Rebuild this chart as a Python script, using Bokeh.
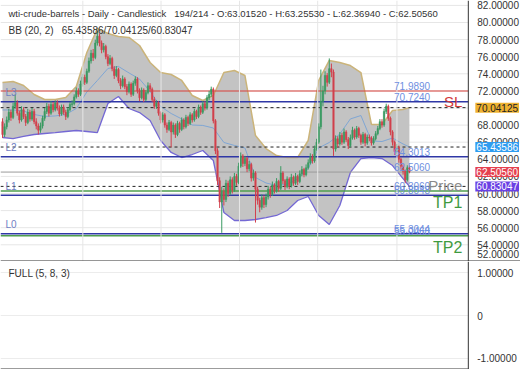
from bokeh.plotting import figure
from bokeh.layouts import column
from bokeh.models import Range1d, Span, Label, ColumnDataSource
from bokeh.core.properties import value
from bokeh.embed import file_html
from bokeh.resources import INLINE

# ---------------- data ----------------
closes = [66.9, 67.8, 68.6, 69.5, 68.9, 70.2, 70.6, 69.4, 68.6, 69.8,
          69.0, 68.3, 69.5, 68.7, 69.6, 68.4, 67.9, 67.4, 67.9, 68.8,
          69.6, 70.2, 69.4, 70.4, 69.8, 70.6, 70.0, 69.3, 70.1, 69.5,
          69.0, 69.8, 70.4, 70.5, 71.3, 72.0, 71.6, 72.8, 73.6, 73.0,
          74.3, 75.5, 76.4, 75.9, 77.6, 78.4, 77.6, 76.8, 77.2, 76.0,
          75.2, 75.8, 74.6, 73.8, 74.5, 73.2, 72.6, 73.4, 72.5, 71.9,
          72.8, 71.6, 72.9, 73.4, 72.0, 71.2, 72.1, 71.0, 71.8, 72.6,
          72.2, 71.0, 70.2, 70.6, 69.4, 68.6, 69.2, 68.0, 67.5, 68.3,
          67.2, 68.0, 66.9, 68.2, 67.5, 68.6, 67.8, 68.9, 68.2, 69.2,
          68.6, 69.6, 69.0, 70.1, 69.5, 70.5, 70.0, 71.2, 71.6, 72.2,
          68.5, 65.0, 61.5, 59.0, 60.2, 59.3, 61.2, 60.0, 61.6, 60.4,
          62.0, 61.3, 63.2, 64.4, 63.5, 64.1, 62.9, 63.4, 61.8, 62.4,
          60.5, 59.2, 58.4, 59.5, 58.7, 59.6, 60.5, 59.9, 61.0, 60.3,
          61.4, 60.6, 62.4, 61.5, 60.8, 61.7, 60.9, 61.9, 61.2, 62.0,
          61.4, 62.3, 62.8, 62.2, 63.0, 63.6, 64.3, 63.8, 65.2, 66.0,
          67.8, 70.8, 72.0, 73.8, 73.0, 74.6, 74.2, 65.2, 66.4, 65.8,
          66.8, 66.0, 67.2, 66.3, 65.6, 66.5, 67.4, 66.6, 67.6, 66.8,
          66.0, 66.9, 65.9, 66.6, 66.5, 65.9, 66.4, 67.0, 67.6, 68.4,
          68.0, 69.6, 70.2, 68.8, 67.2, 66.0, 64.9, 65.4, 64.0, 63.2,
          62.6, 61.6, 63.0152, 62.5056]

opens = [68.4, 66.9, 67.8, 68.6, 69.5, 68.9, 70.2, 70.6, 69.4, 68.6,
         69.8, 69.0, 68.3, 69.5, 68.7, 69.6, 68.4, 67.9, 67.4, 67.9,
         68.8, 69.6, 70.2, 69.4, 70.4, 69.8, 70.6, 70.0, 69.3, 70.1,
         69.5, 69.0, 69.8, 70.4, 70.5, 71.3, 72.0, 71.6, 72.8, 73.6,
         73.0, 74.3, 75.5, 76.4, 75.9, 77.6, 78.4, 77.6, 76.8, 77.2,
         76.0, 75.2, 75.8, 74.6, 73.8, 74.5, 73.2, 72.6, 73.4, 72.5,
         71.9, 72.8, 71.6, 72.9, 73.4, 72.0, 71.2, 72.1, 71.0, 71.8,
         72.6, 72.2, 71.0, 70.2, 70.6, 69.4, 68.6, 69.2, 68.0, 67.5,
         68.3, 67.2, 68.0, 66.9, 68.2, 67.5, 68.6, 67.8, 68.9, 68.2,
         69.2, 68.6, 69.6, 69.0, 70.1, 69.5, 70.5, 70.0, 71.2, 71.6,
         72.2, 68.5, 65.0, 61.5, 59.0, 60.2, 59.3, 61.2, 60.0, 61.6,
         60.4, 62.0, 61.3, 63.2, 64.4, 63.5, 64.1, 62.9, 63.4, 61.8,
         62.4, 60.5, 59.2, 58.4, 59.5, 58.7, 59.6, 60.5, 59.9, 61.0,
         60.3, 61.4, 60.6, 62.4, 61.5, 60.8, 61.7, 60.9, 61.9, 61.2,
         62.0, 61.4, 62.3, 62.8, 62.2, 63.0, 63.6, 64.3, 63.8, 65.2,
         66.0, 67.8, 70.8, 72.0, 73.8, 73.0, 74.6, 74.2, 65.2, 66.4,
         65.8, 66.8, 66.0, 67.2, 66.3, 65.6, 66.5, 67.4, 66.6, 67.6,
         66.8, 66.0, 66.9, 65.9, 66.6, 66.5, 65.9, 66.4, 67.0, 67.6,
         68.4, 68.0, 69.6, 70.2, 68.8, 67.2, 66.0, 64.9, 65.4, 64.0,
         63.2, 62.6, 61.6, 63.0152]

highs = [68.8, 68.2, 69.0, 69.9, 69.8, 70.6, 71.6, 70.9, 69.7, 70.2,
         70.1, 69.3, 69.9, 69.8, 70.0, 69.9, 68.8, 68.2, 68.3, 69.1,
         70.0, 70.6, 70.5, 70.8, 70.7, 70.9, 70.9, 70.3, 70.4, 70.4,
         69.8, 70.1, 70.7, 70.9, 71.6, 72.4, 72.3, 73.2, 74.0, 73.9,
         74.6, 75.9, 76.8, 76.9, 78.0, 79.0, 78.7, 77.9, 77.6, 77.4,
         76.3, 76.2, 76.0, 74.9, 74.9, 74.7, 73.5, 73.8, 73.6, 72.8,
         73.1, 73.0, 73.2, 73.7, 73.6, 72.3, 72.4, 72.3, 72.1, 73.0,
         72.9, 72.4, 71.3, 70.9, 70.8, 69.6, 69.5, 69.4, 68.3, 68.6,
         68.5, 68.3, 68.2, 68.5, 68.4, 68.9, 68.8, 69.2, 69.1, 69.5,
         69.4, 69.9, 69.8, 70.4, 70.3, 70.8, 70.8, 71.5, 72.0, 72.5,
         72.4, 68.7, 65.3, 61.9, 60.8, 60.6, 61.6, 61.5, 62.0, 61.9,
         62.4, 62.3, 63.6, 64.8, 64.6, 64.4, 64.3, 63.8, 63.6, 62.8,
         62.6, 60.8, 59.5, 59.9, 59.8, 60.0, 60.9, 60.8, 61.4, 61.2,
         61.8, 61.6, 63.2, 62.6, 61.7, 62.0, 61.9, 62.3, 62.1, 62.4,
         62.2, 62.7, 63.2, 63.0, 63.4, 64.0, 64.7, 64.6, 65.6, 66.4,
         68.2, 74.5, 72.6, 74.3, 74.1, 75.8, 75.2, 74.5, 66.8, 66.7,
         67.2, 67.1, 67.6, 67.4, 66.6, 66.9, 67.8, 67.6, 67.9, 67.8,
         67.0, 67.2, 67.1, 66.9, 66.9, 66.7, 66.7, 67.3, 67.9, 68.7,
         68.7, 69.9, 70.5, 70.4, 69.0, 67.4, 66.2, 65.8, 65.6, 64.2,
         63.4, 62.8, 63.3, 63.2553]

lows = [66.5, 66.6, 67.5, 68.3, 68.5, 68.7, 69.9, 69.1, 68.2, 68.4,
        68.7, 67.9, 68.1, 68.4, 68.5, 68.1, 67.5, 66.9, 67.1, 67.6,
        68.5, 69.3, 69.0, 69.2, 69.5, 69.6, 69.7, 69.0, 69.1, 69.2,
        68.6, 68.8, 69.6, 70.1, 70.3, 71.1, 71.3, 71.4, 72.5, 72.7,
        72.8, 74.1, 75.2, 75.5, 75.7, 77.3, 77.2, 76.4, 76.5, 75.7,
        74.9, 75.0, 74.3, 73.4, 73.6, 72.9, 72.2, 72.4, 72.2, 71.5,
        71.7, 71.3, 71.4, 72.6, 71.7, 70.8, 71.0, 70.7, 70.8, 71.6,
        71.9, 70.7, 69.9, 69.9, 69.1, 68.2, 68.3, 67.7, 67.1, 67.3,
        65.4, 66.9, 66.5, 66.7, 67.1, 67.3, 67.5, 67.6, 67.9, 68.0,
        68.3, 68.4, 68.7, 68.8, 69.2, 69.3, 69.7, 69.8, 70.9, 71.3,
        68.2, 64.6, 61.0, 58.3, 55.4, 58.6, 59.0, 59.6, 59.8, 60.0,
        60.2, 60.9, 61.1, 63.0, 63.1, 63.2, 62.5, 62.6, 61.4, 61.5,
        56.6, 58.7, 57.8, 58.1, 58.3, 58.4, 59.3, 59.5, 59.7, 60.0,
        60.1, 60.2, 60.4, 61.1, 60.4, 60.6, 60.5, 60.7, 60.9, 61.0,
        61.0, 61.2, 62.0, 61.9, 62.0, 62.8, 63.4, 63.5, 63.6, 65.0,
        65.8, 67.5, 70.2, 71.6, 72.5, 72.8, 73.6, 64.4, 64.9, 65.4,
        65.6, 65.7, 65.8, 66.0, 65.2, 65.4, 66.3, 66.3, 66.4, 66.5,
        65.7, 65.8, 65.5, 65.7, 66.1, 65.6, 65.7, 66.2, 66.8, 67.4,
        67.7, 67.8, 69.3, 68.5, 66.8, 65.6, 64.5, 64.6, 63.6, 62.8,
        62.2, 61.2, 61.4, 62.3694]

# Bollinger Bands (20, 2) read at every 5th bar
bb_index = [0, 5, 10, 15, 20, 25, 30, 35, 40, 45, 50, 55, 60, 65, 70, 75, 80, 85, 90, 95,
            100, 105, 110, 115, 120, 125, 130, 135, 140, 145, 150, 155, 160, 165, 170, 175,
            180, 185, 190, 193]
bb_upper = [72.98, 73.10, 72.63, 71.58, 71.00, 71.00, 71.23, 72.51, 76.49, 79.30,
            78.71, 78.36, 78.25, 77.31, 75.32, 74.15, 73.92, 73.22, 71.46, 70.88,
            71.46, 74.15, 74.39, 73.80, 66.78, 65.26, 64.44, 64.21, 64.21, 66.20,
            73.22, 75.56, 75.32, 74.97, 74.15, 68.07, 68.07, 69.71, 69.82, 70.04125]
bb_mid = [69.77, 69.77, 69.65, 69.24, 69.01, 69.07, 69.24, 69.94, 71.87, 73.22,
          74.62, 74.86, 74.10, 73.39, 71.93, 70.18, 69.36, 68.72, 68.01, 67.96,
          67.66, 65.97, 65.62, 65.32, 61.87, 61.23, 60.94, 61.11, 61.70, 62.93,
          65.33, 65.97, 66.96, 68.72, 69.12, 66.14, 66.08, 66.49, 65.79, 65.43586]
bb_lower = [66.55, 66.43, 66.67, 66.90, 67.02, 67.13, 67.25, 67.37, 67.25, 67.13,
            70.53, 71.35, 69.94, 69.47, 68.54, 66.20, 64.80, 64.21, 64.56, 65.03,
            63.86, 57.78, 56.84, 56.84, 56.96, 57.19, 57.43, 58.01, 59.18, 59.65,
            57.43, 56.37, 58.60, 62.46, 64.09, 64.21, 64.09, 63.27, 61.75, 60.83047]

bb_now = [65.43586, 70.04125, 60.83047]          # mid / upper / lower
ohlc_now = [63.01520, 63.25530, 62.36940, 62.50560]

sl_level = 71.989
sl_text = "71.9890"
level_values = [70.724, 64.3013, 59.8048, 55.3044]
level_texts = ["70.7240", "64.3013", "59.8048", "55.3044"]
level_names = ["L3", "L2", "L1", "L0"]
tp_values = [60.306, 55.0468]
tp_texts = ["60.3060", "55.0468"]
tp_names = ["TP1", "TP2"]
price_level = 62.506
price_text = "62.5060"

y_ticks = [82, 80, 78, 76, 74, 72, 70, 68, 66, 64, 62, 60, 58, 56, 54]
y_tick_labels = ["82.00000", "80.00000", "78.00000", "76.00000", "74.00000", "72.00000",
                 "70.00000", "68.00000", "66.00000", "64.00000", "62.00000", "60.00000",
                 "58.00000", "56.00000", "54.00000"]
y_last_tick = 52
y_last_label = "52.00000"
grid_x = [38.1, 75.2, 112.4, 149.5, 187.1]
osc_ticks = [1, 0, -1]
osc_labels = ["1.00000", "0", "-1.00000"]

# ---------------- styling ----------------
FONT = "Liberation Sans"
GREEN = "#3a9a62"
RED = "#d2404c"
X0, X1 = -0.952, 245.7        # whole canvas width
XE = 220.95                   # right edge of the chart area (price scale begins)
XT = 225.2                    # price-scale text column
Y0, Y1 = 52.047, 82.573
GRID = "#e6e6e6"
NB = "\u00a0"


def base(h, yr):
    f = figure(width=520, height=h, x_range=Range1d(X0, X1), y_range=yr,
               x_axis_location=None, y_axis_location=None, toolbar_location=None,
               output_backend="svg", min_border=0, outline_line_color=None,
               background_fill_color="white", border_fill_color="white")
    f.grid.visible = False
    return f


def lab(fig, **kw):
    kw.setdefault("text_font", FONT)
    fig.add_layout(Label(**kw))


p = base(261, Range1d(Y0, Y1))

# grid
for gx in grid_x:
    p.add_layout(Span(location=gx, dimension="height", line_color=GRID, line_width=1))
p.segment(x0=[X0] * len(y_ticks), y0=y_ticks, x1=[XE] * len(y_ticks), y1=y_ticks,
          line_color=GRID, line_width=1)

# bands
p.varea(x=bb_index, y1=bb_lower, y2=bb_upper, fill_color="#c3c3c3", fill_alpha=1.0)
p.line(bb_index, bb_mid, line_color="#7fa6d4", line_width=1)
p.line(bb_index, bb_upper, line_color="#cbb47a", line_width=1.5)
p.line(bb_index, bb_lower, line_color="#7468d4", line_width=1.3)


def hline(v, **kw):
    p.segment(x0=[X0], y0=[v], x1=[XE], y1=[v], **kw)


hline(sl_level, line_color="#d9403a", line_width=1.2)
for v in level_values:
    hline(v, line_color="#2f37a6", line_width=1.5)
for v in tp_values:
    hline(v, line_color="#4e9e4e", line_width=1.5)
hline(price_level, line_color="#9a9a9a", line_width=1)
for v in bb_now:
    hline(v, line_color="#222222", line_width=1, line_dash="3 3")

# candles
xs = list(range(len(closes)))
colors = [GREEN if c >= o else RED for o, c in zip(opens, closes)]
src = ColumnDataSource(dict(x=xs, h=highs, l=lows,
                            top=[max(o, c) for o, c in zip(opens, closes)],
                            bot=[min(o, c) for o, c in zip(opens, closes)],
                            color=colors))
p.segment(x0="x", y0="h", x1="x", y1="l", color="color", line_width=1, source=src)
p.vbar(x="x", width=0.7, top="top", bottom="bot", fill_color="color", line_color="color",
       line_width=0.5, source=src)

# frame lines
p.add_layout(Span(location=XE, dimension="height", line_color="#333333", line_width=1))
p.add_layout(Span(location=Y0 + 0.06, dimension="width", line_color="#333333", line_width=1))

# header texts
header = ("wti-crude-barrels - Daily - Candlestick" + NB * 3 + "194/214 - O:%.5f - H:%.5f - L:%.5f - C:%.5f"
          % tuple(ohlc_now))
lab(p, x=X0, y=Y1, x_offset=8, y_offset=-13, text=header, text_baseline="middle",
    text_font_size="9.5px", text_color="#333333")
bb_line = "BB (20, 2)" + NB * 3 + "%.5f/%.5f/%.5f" % tuple(bb_now)
lab(p, x=X0, y=Y1, x_offset=8, y_offset=-30, text=bb_line, text_baseline="middle",
    text_font_size="10px", text_color="#333333")

# level value texts
for v, t in zip([sl_level] + level_values + [price_level] + tp_values,
                [sl_text] + level_texts + [price_text] + tp_texts):
    lab(p, x=185.7, y=v, y_offset=1, text=t, text_baseline="bottom", text_font_size="10px",
        text_color="#6f8fdf")

for v, n in zip(level_values, level_names):
    lab(p, x=X0, x_offset=5, y=v, y_offset=9, text=n, text_baseline="middle",
        text_font_size="10px", text_color="#6f80c4")

lab(p, x=XE, x_offset=-6, y=sl_level, y_offset=-11, text="SL", text_align="right",
    text_baseline="middle", text_font_size="15px", text_color="#d23a3a")
lab(p, x=XE, x_offset=-6, y=price_level, y_offset=-13, text="Price", text_align="right",
    text_baseline="middle", text_font_size="15px", text_color="#8a8a8a")
for v, n in zip(tp_values, tp_names):
    lab(p, x=XE, x_offset=-6, y=v, y_offset=-12, text=n, text_align="right",
        text_baseline="middle", text_font_size="16px", text_color="#3f9a3f")

# price scale
p.text(x=[XT] * len(y_ticks), y=y_ticks, text=y_tick_labels, text_font=value(FONT),
       text_font_size="10px", text_color="#333333", text_baseline="middle")
p.text(x=[XT], y=[y_last_tick], text=[y_last_label], text_font=value(FONT),
       text_font_size="10px", text_color="#333333", text_baseline="middle", y_offset=-8)

tag_values = [bb_now[1], bb_now[0], ohlc_now[3], bb_now[2]]
tag_bg = ["#efb230", "#2f9cf0", "#e5414f", "#6a40e4"]
tag_fg = ["#222222", "white", "white", "white"]
for v, bg, fg in zip(tag_values, tag_bg, tag_fg):
    lab(p, x=XE, x_offset=7, y=v, text="%.5f" % v, text_baseline="middle",
        text_font_size="10px", text_color=fg, background_fill_color=bg, padding=1)

# ---------------- lower panel ----------------
q = base(108, Range1d(-1.256, 1.256))
q.segment(x0=[X0] * 3, y0=osc_ticks, x1=[XE] * 3, y1=osc_ticks, line_color="#ececec",
          line_width=1)
q.add_layout(Span(location=XE, dimension="height", line_color="#333333", line_width=1))
q.segment(x0=[X0], y0=[-1.245], x1=[XE], y1=[-1.245], line_color="#333333", line_width=1)
q.text(x=[XT] * 3, y=osc_ticks, text=osc_labels, text_font=value(FONT), text_font_size="10px",
       text_color="#333333", text_baseline="middle")
lab(q, x=X0, x_offset=8, y=1.0, y_offset=-1, text="FULL (5, 8, 3)", text_baseline="middle",
    text_font_size="10px", text_color="#333333")

layout = column(p, q, spacing=0)
open("out.html", "w").write(file_html(layout, INLINE))
